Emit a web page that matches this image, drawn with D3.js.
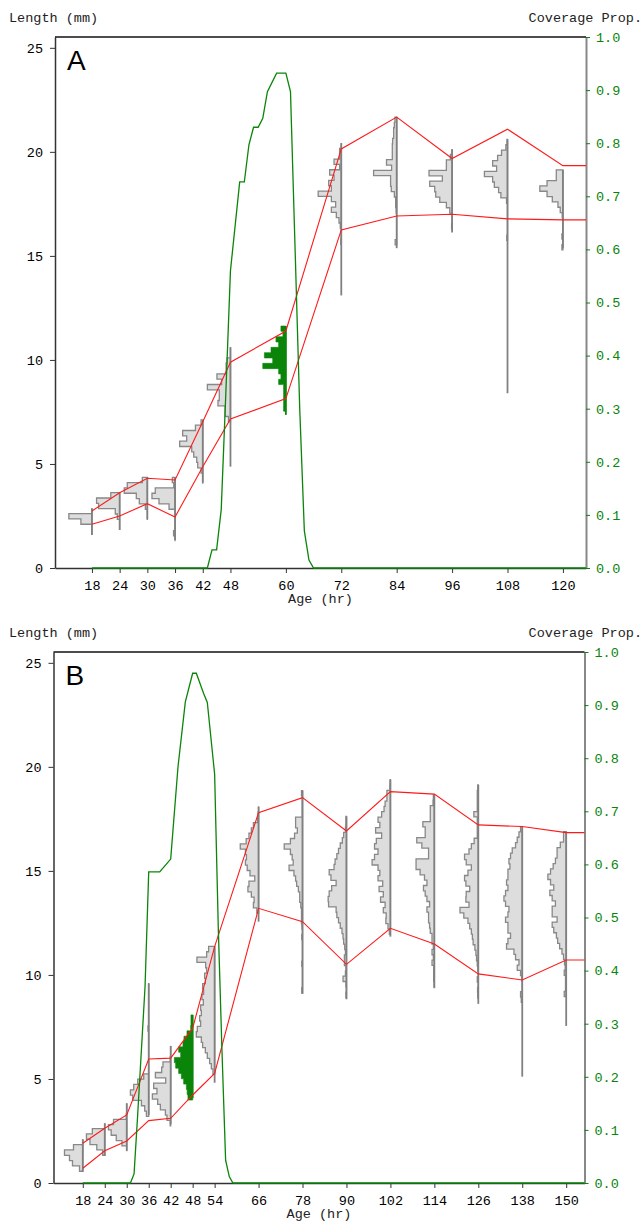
<!DOCTYPE html>
<html>
<head>
<meta charset="utf-8">
<script src="https://cdn.jsdelivr.net/npm/d3@7"></script>
<style>
body { margin: 0; background: #fff; }
svg text { font-family: "Courier New", "Liberation Mono", monospace; font-size: 13.5px; }
</style>
</head>
<body>
<div id="chart"></div>
<script>
const BIN_MM = 0.256;     // histogram bin height (mm)
const MAX_BAR_HR = 5;     // widest bar of each histogram, in hours
const Y_MAX = 25.52;

// ---- panel A ----
const agesA = [18, 24, 30, 36, 42, 48, 60, 72, 84, 96, 108, 120];
const upperA = [2.74, 3.62, 4.31, 4.23, 7.03, 9.89, 11.39, 20.14, 21.67, 19.68, 21.09, 19.34];
const lowerA = [2.10, 2.50, 3.09, 2.45, 4.87, 7.16, 8.14, 16.25, 16.92, 17.00, 16.78, 16.73];
const histHiA = [2.87, 3.62, 4.36, 4.36, 7.12, 10.61, 11.63, 20.42, 21.67, 20.13, 20.6, 19.13];
const histLoA = [1.59, 1.83, 2.34, 1.35, 4.10, 4.87, 7.36, 13.1, 15.37, 16.12, 8.4, 15.37];
const countsA = [
  [0, 23, 11, 0, 0],
  [8.7, 22.7, 20.7, 4.3, 2.3, 0, 0],
  [5, 20, 23, 11, 8, 2, 0, 0],
  [2.7, 1.3, 19.7, 23, 16, 6, 0, 0, 0, 0, 1.5, 0],
  [1.7, 7.3, 20, 16, 23, 11, 9, 6, 5, 1.7, 0, 0],
  [0, 0, 3.3, 4.3, 4.3, 13.3, 8.7, 22.7, 11, 11, 12.3, 5.3, 5.3, 2],
  [5, 3, 10, 7.3, 15, 21.7, 13.3, 23.3, 7.3, 5, 7.3, 2.3, 2.3, 2.3, 2.3, 2.3],
  [0, 1.7, 1.7, 7.3, 1.7, 11.7, 7.3, 12.7, 10, 23.3, 10, 5.7, 10, 5, 2.3, 1, 0, 0, 0.5],
  [1.7, 2.3, 3, 3, 4, 4.3, 4.3, 4.3, 10, 5, 22.7, 6, 6, 5.3, 2.3, 1, 1, 0.5, 0, 0, 0, 0, 0, 1.5],
  [0, 1.7, 5.7, 5.7, 23, 9.7, 22.3, 17.3, 16.3, 12.3, 5.7, 2.3, 0, 0, 0.5],
  [0.5, 1.7, 6, 10, 15, 11, 23.3, 15, 13.3, 9, 6.7, 1, 0, 0, 0, 0, 0, 0, 0.7],
  [6.7, 6.7, 16, 23.3, 16, 10.7, 5, 2.7, 0.7, 0, 0, 0, 1, 0, 1]
];
const covHoursA = [18, 43, 44, 45, 46, 47, 48, 50, 51, 52, 53, 54, 55, 56, 58, 60, 61, 62, 63, 64, 65, 66, 125];
const covA = [0, 0, 0.034, 0.034, 0.11, 0.33, 0.56, 0.727, 0.727, 0.797, 0.83, 0.83, 0.847, 0.897, 0.932, 0.932, 0.897, 0.6, 0.3, 0.07, 0.015, 0, 0];

// ---- panel B ----
const agesB = [18, 24, 30, 36, 42, 48, 54, 66, 78, 90, 102, 114, 126, 138, 150];
const upperB = [1.91, 2.63, 3.27, 5.96, 6.00, 7.44, 11.36, 17.8, 18.52, 16.92, 18.81, 18.69, 17.21, 17.13, 16.84];
const lowerB = [0.71, 1.55, 2.02, 3.00, 3.11, 4.23, 5.27, 13.2, 12.56, 10.51, 12.24, 11.49, 10.05, 9.76, 10.72];
const histHiB = [2.10, 2.87, 3.83, 9.6, 6.59, 8.08, 11.37, 18.09, 18.86, 17.62, 19.38, 18.65, 19.13, 17.13, 16.89];
const histLoB = [0.54, 1.30, 1.55, 3.27, 2.82, 4.07, 4.82, 12.56, 9.09, 8.83, 11.84, 9.36, 8.61, 5.11, 7.55];
const countsB = [
  [0, 9.3, 18.3, 13.3, 10.3, 3.3],
  [0, 12, 17.7, 14.3, 7.7, 2],
  [0, 0, 0.5, 13, 18, 15.3, 10.3, 4.7, 0],
  [0, 0, 0, 0, 0, 0, 0, 0, 0.7, 0, 0, 0, 0, 0, 0, 0, 0, 5, 11, 15, 18.3, 16, 7.3, 4, 2.3],
  [0, 0, 0.5, 7.7, 9, 15.3, 5, 17, 13.7, 18.3, 13, 10.3, 5.3, 3.7, 0.5],
  [1.7, 1.7, 2, 5.7, 8.7, 9.7, 14, 12, 18.3, 17, 14, 11.3, 9, 6.3, 5.5, 4.7],
  [6, 8, 17.7, 9, 8, 10, 9.3, 12, 11, 12.7, 11.3, 14, 13.3, 15, 14, 17.3, 18.3, 13.3, 12, 9.3, 7.3, 5, 3.3, 1.7],
  [0, 0.5, 1, 5, 7, 9.3, 12, 17.7, 12.7, 11.7, 12.7, 11, 8.3, 3.7, 9.3, 10.3, 7, 4.3, 5, 1.7],
  [1, 0.3, 0.3, 0.3, 0.3, 6.7, 6.7, 5, 7.7, 11.7, 17.7, 11.7, 10, 9, 13, 8.3, 6.7, 5.7, 4, 2.7, 2.7, 1.7, 1, 1, 1, 0.5, 0, 0.7, 0, 0, 0, 0, 0.7, 0, 0, 0, 0, 0.7],
  [0.5, 0.5, 1, 2.7, 4, 6, 7.7, 9.3, 11, 12, 16.7, 15, 10, 14.3, 16.7, 17.7, 17.3, 10, 9.3, 7.7, 6, 4.3, 3.3, 2.7, 1.7, 1, 2, 2, 0.5, 1, 3.3, 0.5, 0, 0.5],
  [0.3, 0.5, 3.3, 3.3, 5, 6, 8.3, 11.7, 10, 14, 8.3, 13.3, 15, 11.7, 15, 17.3, 11.7, 10, 11.7, 7.3, 10.7, 6.7, 9.3, 5, 6.7, 4, 4.3, 2.3, 1],
  [1, 1.3, 4, 4, 4, 11.3, 9, 9, 17.3, 12.3, 5.7, 5.7, 18, 18, 14, 9.7, 7.3, 10.7, 9, 7.3, 4.7, 7.3, 5.7, 5.7, 4.7, 4, 2.3, 2.3, 1, 2.3, 1, 2.3, 0.7, 0.7, 0.7, 0.3],
  [0.5, 1, 1, 1, 1, 4.3, 1, 1, 1, 1, 4, 6.7, 9, 13.3, 11.7, 6.7, 10, 13.3, 12, 8.3, 11.7, 12, 9, 17.7, 14, 10, 8.3, 6.7, 5.7, 5, 3.3, 2.3, 1.7, 1, 0.5, 0, 1, 0, 0.7, 0.5],
  [1.7, 3.3, 5, 6.7, 10, 11.7, 13.3, 12.3, 14.3, 14.3, 15.7, 14.3, 16.7, 18.3, 16.7, 13.3, 14.3, 16.7, 14.3, 14.3, 11.7, 14.3, 15.7, 8.3, 6.7, 3.3, 5, 1.7, 0.5, 0, 0, 1.7, 1],
  [2.7, 2.7, 6, 9.3, 9.3, 11, 13.3, 16, 18.7, 16, 12.7, 16.7, 14.3, 11, 14.3, 14.3, 9.3, 14.3, 12.7, 10, 8.7, 6.7, 4.3, 2.7, 1.7, 1, 2, 0.7, 0.7, 0.7, 2]
];
const covHoursB = [18, 31, 32, 33, 34, 35, 36, 39, 42, 44, 46, 48, 49, 51, 52, 54, 55, 56, 57, 58, 59, 155];
const covB = [0, 0, 0.017, 0.13, 0.25, 0.37, 0.586, 0.586, 0.61, 0.784, 0.906, 0.96, 0.96, 0.922, 0.905, 0.77, 0.48, 0.25, 0.043, 0.012, 0, 0];

const lengthTicks = [0, 5, 10, 15, 20, 25];
const coverTicks = d3.range(0, 11).map(d => d / 10);

const W = 531, H = 531;
const GREEN = '#0a850a';

const svg = d3.select('#chart').append('svg')
  .attr('width', 644)
  .attr('height', 1222);

function drawPanel(p) {
  const g = svg.append('g')
    .attr('transform', `translate(${p.left},${p.top})`);

  const x = d3.scaleLinear().domain(p.xDomain).range([0, W]);
  const y = d3.scaleLinear().domain([0, Y_MAX]).range([H, 0]);
  const yc = d3.scaleLinear().domain([0, 1]).range([H, 0]);

  // axes
  const leftAxis = g.append('g')
    .call(d3.axisLeft(y).tickValues(lengthTicks).tickSize(5).tickPadding(7).tickSizeOuter(0));
  leftAxis.select('.domain').attr('stroke', '#333').attr('stroke-width', 1.5);
  leftAxis.selectAll('.tick line').attr('stroke', '#333');

  const bottomAxis = g.append('g')
    .attr('transform', `translate(0,${H})`)
    .call(d3.axisBottom(x).tickValues(p.ages).tickSize(5).tickPadding(7).tickSizeOuter(0));
  bottomAxis.select('.domain').attr('stroke', '#333').attr('stroke-width', 1.5);
  bottomAxis.selectAll('.tick line').attr('stroke', '#333');

  const rightAxis = g.append('g')
    .attr('transform', `translate(${W},0)`)
    .call(d3.axisRight(yc).tickValues(coverTicks).tickFormat(d3.format('.1f'))
      .tickSize(4).tickPadding(6).tickSizeOuter(0));
  rightAxis.select('.domain').attr('stroke', '#888').attr('stroke-width', 2);
  rightAxis.selectAll('.tick line').attr('stroke', GREEN);
  rightAxis.selectAll('.tick text').attr('fill', GREEN);

  g.append('line')
    .attr('x1', 0).attr('x2', W)
    .attr('y1', 0).attr('y2', 0)
    .attr('stroke', '#111').attr('stroke-width', 1.5);

  g.selectAll('.tick text').style('font-size', '13.5px');

  // histograms
  p.ages.forEach((age, i) => {
    const counts = p.counts[i];
    const hi = p.histHi[i];
    const lo = p.histLo[i];
    const w = d3.scaleLinear().domain([0, d3.max(counts)]).range([0, MAX_BAR_HR]);
    const isHi = age === p.highlight;
    const pts = [[age, hi]];
    counts.forEach((c, j) => {
      const t = hi - j * BIN_MM;
      const b = hi - (j + 1) * BIN_MM;
      pts.push([age - w(c), t], [age - w(c), b]);
    });
    pts.push([age, hi - counts.length * BIN_MM]);

    const line = d3.line().x(d => x(d[0])).y(d => y(d[1]));
    g.append('path')
      .attr('d', line(pts) + 'Z')
      .attr('fill', isHi ? GREEN : '#dddddd')
      .attr('stroke', isHi ? GREEN : '#888')
      .attr('stroke-width', isHi ? 0.6 : 1.3);

    g.append('line')
      .attr('x1', x(age)).attr('x2', x(age))
      .attr('y1', y(hi)).attr('y2', y(lo))
      .attr('stroke', isHi ? GREEN : '#808080')
      .attr('stroke-width', 1.8);
  });

  // red envelope lines, held flat to the right edge
  const redLine = d3.line().x(d => x(d[0])).y(d => y(d[1]));
  [p.upper, p.lower].forEach(vals => {
    const pts = p.ages.map((a, i) => [a, vals[i]]);
    pts.push([p.xDomain[1], vals[vals.length - 1]]);
    g.append('path')
      .attr('d', redLine(pts))
      .attr('fill', 'none')
      .attr('stroke', '#ff1a1a')
      .attr('stroke-width', 1.1);
  });

  // coverage proportion
  const covLine = d3.line().x(d => x(d[0])).y(d => yc(d[1]));
  g.append('path')
    .attr('d', covLine(p.covHours.map((h, i) => [h, p.cov[i]])))
    .attr('fill', 'none')
    .attr('stroke', GREEN)
    .attr('stroke-width', 1.3);

  // labels
  svg.append('text')
    .attr('x', 9).attr('y', p.top - 15)
    .attr('fill', '#222')
    .text('Length (mm)');
  svg.append('text')
    .attr('x', 642).attr('y', p.top - 15)
    .attr('text-anchor', 'end')
    .attr('fill', '#222')
    .text('Coverage Prop.');
  svg.append('text')
    .attr('x', p.left + W / 2).attr('y', p.top + H + 35)
    .attr('text-anchor', 'middle')
    .attr('fill', '#222')
    .text('Age (hr)');
  g.append('text')
    .attr('x', 12).attr('y', 33)
    .style('font-family', '"Liberation Sans", Arial, sans-serif')
    .style('font-size', '28px')
    .attr('fill', '#000')
    .text(p.name);
}

drawPanel({
  name: 'A', left: 55, top: 37, xDomain: [10, 125], highlight: 60,
  ages: agesA, upper: upperA, lower: lowerA,
  histHi: histHiA, histLo: histLoA, counts: countsA,
  covHours: covHoursA, cov: covA
});

drawPanel({
  name: 'B', left: 53.5, top: 652, xDomain: [10, 155], highlight: 48,
  ages: agesB, upper: upperB, lower: lowerB,
  histHi: histHiB, histLo: histLoB, counts: countsB,
  covHours: covHoursB, cov: covB
});
</script>
</body>
</html>
